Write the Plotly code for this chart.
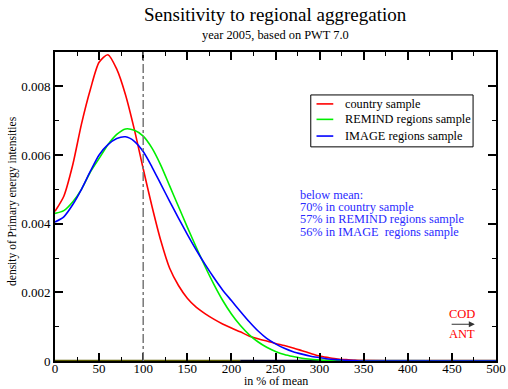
import plotly.graph_objects as go

# ---------------- data ----------------
grid_x = [0, 10, 20, 30, 40, 50, 60, 70, 80, 90, 100, 110, 120, 130, 140, 150, 160, 170, 180, 190,
          200, 210, 220, 230, 240, 250, 260, 270, 280, 290, 300, 310, 320, 330, 340, 350, 400, 450, 500]

red_y = [0.00436, 0.0048, 0.0057, 0.0069, 0.0079, 0.0087, 0.00892, 0.0085, 0.00775, 0.00674, 0.0056,
         0.0045, 0.0035, 0.0027, 0.0022, 0.00183, 0.00157, 0.00138, 0.00122, 0.00108,
         0.00096, 0.00085, 0.00073, 0.00065, 0.00058, 0.00051, 0.00045, 0.00038, 0.0003, 0.00022,
         0.000145, 0.0001, 0.00006, 0.00004, 0.00002, 0.00001, 0, 0, 0]

green_y = [0.0043, 0.00438, 0.00463, 0.0050, 0.0055, 0.0059, 0.0063, 0.0066, 0.00676, 0.00672, 0.00655,
           0.0062, 0.0057, 0.0051, 0.0045, 0.0039, 0.00332, 0.00276, 0.00224, 0.00177,
           0.00137, 0.00104, 0.00077, 0.00056, 0.0004, 0.00028, 0.00019, 0.00013, 0.00008, 0.00005,
           0.00003, 0.00001, 0, 0, 0, 0, 0, 0, 0]

blue_y = [0.00405, 0.0042, 0.00455, 0.0050, 0.00552, 0.0060, 0.0063, 0.00648, 0.00653, 0.0064, 0.0061,
          0.00565, 0.00515, 0.00465, 0.00416, 0.00369, 0.00324, 0.00282, 0.00243, 0.00207,
          0.00176, 0.00145, 0.00115, 0.00088, 0.00066, 0.0005, 0.00037, 0.00027, 0.0002, 0.00014,
          0.0001, 0.00006, 0.00004, 0.00002, 0.00001, 0, 0, 0, 0]

series_names = ["country sample", "REMIND regions sample", "IMAGE regions sample"]
series_colors = ["#ff0000", "#00ee00", "#0000ff"]

# near-zero segments drawn along the x axis in the reference
base_breaks = [0, 210, 420, 500]
base_colors = ["#5c5c00", "#000022", "#3a0000"]

x_ticks = list(range(0, 501, 50))
y_ticks = [0, 0.002, 0.004, 0.006, 0.008]
y_tick_text = ["0", "0.002", "0.004", "0.006", "0.008"]

mean_x = 100
note_lines = ["below mean:", "70% in country sample", "57% in REMIND regions sample", "56% in IMAGE  regions sample"]

FONT = "Liberation Serif, Times New Roman, serif"

fig = go.Figure()

for i, col in enumerate(base_colors):
    fig.add_trace(go.Scatter(x=[base_breaks[i], base_breaks[i + 1]], y=[0, 0], mode="lines",
                             line=dict(color=col, width=2.5), showlegend=False, hoverinfo="skip",
                             cliponaxis=False))

for ys, name, col in zip([red_y, green_y, blue_y], series_names, series_colors):
    fig.add_trace(go.Scatter(x=grid_x, y=ys, mode="lines", name=name, showlegend=False,
                             line=dict(color=col, width=1.6, shape="spline", smoothing=0.7)))

fig.add_shape(type="line", x0=mean_x, x1=mean_x, y0=0, y1=1, xref="x", yref="y domain",
              line=dict(color="#777777", width=1.5, dash="dashdot"))

# manual legend box (tighter rows than plotly's native legend)
fig.add_shape(type="rect", x0=0.580, x1=0.948, y0=0.693, y1=0.861, xref="x domain", yref="y domain",
              line=dict(color="black", width=1), fillcolor="white")
row_y = [0.832, 0.782, 0.728]
for ry, name, col in zip(row_y, series_names, series_colors):
    fig.add_shape(type="line", x0=0.593, x1=0.631, y0=ry, y1=ry, xref="x domain", yref="y domain",
                  line=dict(color=col, width=1.6))
    fig.add_annotation(x=0.652, y=ry, xref="x domain", yref="y domain", xanchor="left", yanchor="middle",
                       text=name, showarrow=False, font=dict(family=FONT, size=12.3, color="black"))

note_y = [0.537, 0.499, 0.459, 0.418]
for ny, line in zip(note_y, note_lines):
    fig.add_annotation(x=0.551, y=ny, xref="x domain", yref="y domain", xanchor="left", yanchor="middle",
                       text=line, showarrow=False, font=dict(family=FONT, size=12.3, color="#2a2aff"))

fig.add_annotation(x=0.922, y=0.152, xref="x domain", yref="y domain", xanchor="center", yanchor="middle",
                   text="COD", showarrow=False, font=dict(family=FONT, size=12.5, color="#ff0000"))
fig.add_annotation(x=0.922, y=0.086, xref="x domain", yref="y domain", xanchor="center", yanchor="middle",
                   text="ANT", showarrow=False, font=dict(family=FONT, size=12.5, color="#ff0000"))
fig.add_annotation(x=0.952, y=0.119, ax=0.896, ay=0.119, xref="x domain", yref="y domain",
                   axref="x domain", ayref="y domain", text="", showarrow=True,
                   arrowhead=2, arrowsize=1, arrowwidth=1.2, arrowcolor="#333333")

# titles
fig.add_annotation(x=0.501, y=1.12, xref="paper", yref="paper", xanchor="center", yanchor="middle",
                   text="Sensitivity to regional aggregation",
                   showarrow=False, font=dict(family=FONT, size=19, color="black"))
fig.add_annotation(x=0.501, y=1.055, xref="paper", yref="paper", xanchor="center", yanchor="middle",
                   text="year 2005, based on PWT 7.0",
                   showarrow=False, font=dict(family=FONT, size=12.4, color="black"))

# axis titles
fig.add_annotation(x=0.5, y=-0.066, xref="x domain", yref="y domain", xanchor="center", yanchor="middle",
                   text="in % of mean", showarrow=False, font=dict(family=FONT, size=12, color="black"))
fig.add_annotation(x=-0.0952, y=0.518, xref="x domain", yref="y domain", xanchor="center", yanchor="middle",
                   textangle=-90, text="density of Primary energy intensities", showarrow=False,
                   font=dict(family=FONT, size=11.5, color="black"))

fig.update_layout(
    width=508, height=389,
    margin=dict(l=55, r=12, t=52, b=28),
    paper_bgcolor="white", plot_bgcolor="white",
    font=dict(family=FONT, size=13, color="black"),
    showlegend=False,
    xaxis=dict(range=[0, 500], tickvals=x_ticks, ticks="inside", ticklen=8, tickwidth=1.5,
               tickcolor="black", showline=True, linecolor="black", linewidth=1.8, mirror="ticks",
               showgrid=False, zeroline=False, automargin=False, ticklabelstandoff=-6,
               minor=dict(dtick=25, ticks="inside", ticklen=4, tickwidth=1, tickcolor="black", showgrid=False),
               tickfont=dict(family=FONT, size=13)),
    yaxis=dict(range=[0, 0.009], tickvals=y_ticks, ticktext=y_tick_text, ticks="inside", ticklen=8,
               tickwidth=1.5, tickcolor="black", showline=True, linecolor="black", linewidth=1.8,
               mirror="ticks", showgrid=False, zeroline=False, automargin=False,
               minor=dict(dtick=0.001, ticks="inside", ticklen=4, tickwidth=1, tickcolor="black", showgrid=False),
               tickfont=dict(family=FONT, size=13)),
)

fig.write_html("out.html")
